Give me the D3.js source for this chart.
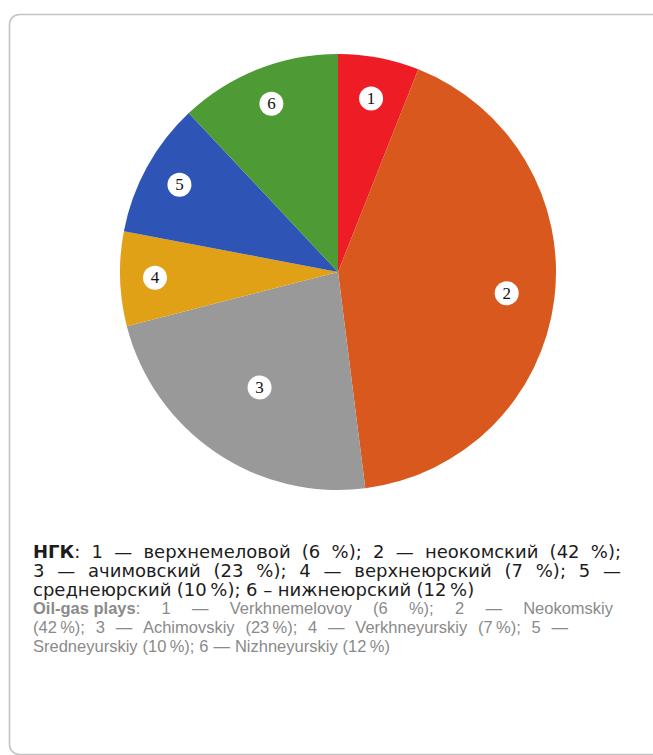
<!DOCTYPE html>
<html>
<head>
<meta charset="utf-8">
<script src="https://cdn.jsdelivr.net/npm/d3@7"></script>
<style>
  body { margin: 0; background: #fff; }
  svg { display: block; }
</style>
</head>
<body>
<div id="chart"></div>
<script>
// Data
var plays = ["1", "2", "3", "4", "5", "6"];
var shares = [6, 42, 23, 7, 10, 12];
var colors = ["#ee1c24", "#d9581e", "#999999", "#e0a117", "#2e55b5", "#4e9a34"];

var ruTitle = "НГК";
var ruLines = [
  "1 — верхнемеловой (6 %); 2 — неокомский (42 %);",
  "3 — ачимовский (23 %); 4 — верхнеюрский (7 %); 5 —",
  "среднеюрский (10\u202F%); 6\u00A0–\u00A0нижнеюрский (12\u202F%)"
];
var enTitle = "Oil-gas plays";
var enLines = [
  "1 — Verkhnemelovoy (6 %); 2 — Neokomskiy",
  "(42\u202F%); 3 — Achimovskiy (23\u202F%); 4 — Verkhneyurskiy (7\u202F%); 5 —",
  "Sredneyurskiy (10\u202F%); 6 — Nizhneyurskiy (12\u202F%)"
];

var W = 653, H = 755;
var svg = d3.select("#chart").append("svg")
            .attr("width", W)
            .attr("height", H);

// Frame (runs off the right and bottom edges)
svg.append("rect")
   .attr("x", 9.5).attr("y", 14.5)
   .attr("width", 720).attr("height", 740)
   .attr("rx", 10)
   .attr("fill", "none")
   .attr("stroke", "#c4c4c4")
   .attr("stroke-width", 1.6);

// Pie
var cx = 338, cy = 272, radius = 218;
var pie = d3.pie().sort(null).value(d => d);
var arc = d3.arc().innerRadius(0).outerRadius(radius);
// labels were placed by hand in the original, so each sits at its own depth
var labelDepth = [0.81, 0.78, 0.64, 0.84, 0.83, 0.83];

var g = svg.append("g").attr("transform", "translate(" + cx + "," + cy + ")");
var arcs = pie(shares);

g.selectAll("path.slice")
 .data(arcs)
 .enter().append("path")
 .attr("class", "slice")
 .attr("d", arc)
 .attr("fill", (d, i) => colors[i]);

var labels = g.selectAll("g.lbl")
              .data(arcs)
              .enter().append("g")
              .attr("class", "lbl")
              .attr("transform", function(d, i) {
                var r = radius * labelDepth[i];
                return "translate(" + d3.arc().innerRadius(r).outerRadius(r).centroid(d) + ")";
              });

labels.append("circle")
      .attr("r", 12)
      .attr("fill", "#fff");

labels.append("text")
      .text((d, i) => plays[i])
      .attr("text-anchor", "middle")
      .attr("dominant-baseline", "central")
      .attr("font-family", "Liberation Serif, serif")
      .attr("font-size", 17)
      .attr("fill", "#111");

// Caption: justified lines built word by word
var left = 33;
function paragraph(title, lines, y0, fill, font, size, rights) {
  lines.forEach(function(line, li) {
    var words = line.split(" ");
    var y = y0 + li * 19;
    var nodes = [];
    if (li === 0) {
      var t = svg.append("text")
                 .attr("y", y)
                 .attr("font-family", font)
                 .attr("font-size", size)
                 .attr("fill", fill);
      t.append("tspan").attr("font-weight", "bold").text(title);
      t.append("tspan").text(":");
      nodes.push(t);
    }
    words.forEach(function(w) {
      nodes.push(svg.append("text")
                    .attr("y", y)
                    .attr("font-family", font)
                    .attr("font-size", size)
                    .attr("fill", fill)
                    .text(w));
    });
    var widths = nodes.map(n => n.node().getComputedTextLength());
    var total = d3.sum(widths);
    var right = rights[li];
    var gap = right ? (right - left - total) / (nodes.length - 1) : size * 0.3;
    var x = left;
    nodes.forEach(function(n, i) {
      n.attr("x", x);
      x += widths[i] + gap;
    });
  });
}

paragraph(ruTitle, ruLines, 558, "#1c1c1c", "DejaVu Sans, sans-serif", 18, [621, 621, null]);
paragraph(enTitle, enLines, 614, "#8a8a8a", "Liberation Sans Narrow, Liberation Sans, sans-serif", 16.5, [613, 568, null]);
</script>
</body>
</html>
